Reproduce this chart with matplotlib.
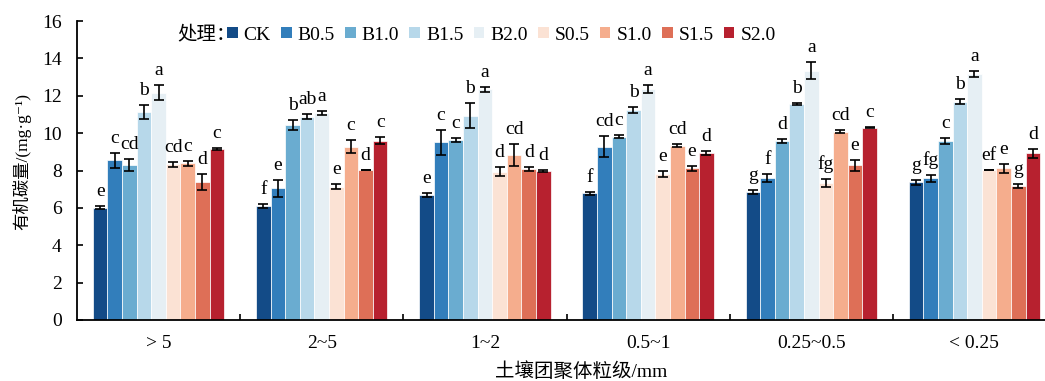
import numpy as np
import matplotlib
matplotlib.use("Agg")
import matplotlib.pyplot as plt
from matplotlib.patches import Patch

plt.rcParams['font.family'] = ['Liberation Serif', 'Noto Sans CJK SC', 'DejaVu Sans']

categories = ["> 5", "2~5", "1~2", "0.5~1", "0.25~0.5", "< 0.25"]
treatments = ["CK", "B0.5", "B1.0", "B1.5", "B2.0", "S0.5", "S1.0", "S1.5", "S2.0"]

# values per treatment across the 6 size classes
CK   = [6.01, 6.12, 6.69, 6.78, 6.87, 7.37]
B0_5 = [8.56, 7.05, 9.50, 9.27, 7.58, 7.58]
B1_0 = [8.29, 10.43, 9.63, 9.81, 9.58, 9.58]
B1_5 = [11.15, 10.88, 10.93, 11.24, 11.56, 11.68]
B2_0 = [12.15, 11.06, 12.34, 12.34, 13.34, 13.16]
S0_5 = [8.33, 7.13, 7.94, 7.79, 7.35, 8.03]
S1_0 = [8.38, 9.27, 8.83, 9.33, 10.08, 8.11]
S1_5 = [7.40, 8.03, 8.08, 8.11, 8.29, 7.17]
S2_0 = [9.15, 9.60, 7.97, 8.92, 10.29, 8.92]

CK_err   = [0.09, 0.10, 0.11, 0.09, 0.11, 0.12]
B0_5_err = [0.40, 0.46, 0.69, 0.55, 0.22, 0.20]
B1_0_err = [0.30, 0.25, 0.13, 0.09, 0.13, 0.17]
B1_5_err = [0.37, 0.14, 0.68, 0.18, 0.03, 0.12]
B2_0_err = [0.40, 0.10, 0.14, 0.21, 0.45, 0.15]
S0_5_err = [0.12, 0.13, 0.25, 0.16, 0.22, 0.02]
S1_0_err = [0.14, 0.34, 0.60, 0.08, 0.09, 0.24]
S1_5_err = [0.43, 0.02, 0.12, 0.13, 0.29, 0.13]
S2_0_err = [0.03, 0.20, 0.05, 0.11, 0.03, 0.23]

CK_sig   = ["e", "f", "e", "f", "g", "g"]
B0_5_sig = ["c", "e", "c", "cd", "f", "fg"]
B1_0_sig = ["cd", "b", "c", "c", "d", "c"]
B1_5_sig = ["b", "ab", "b", "b", "b", "b"]
B2_0_sig = ["a", "a", "a", "a", "a", "a"]
S0_5_sig = ["cd", "e", "d", "e", "fg", "ef"]
S1_0_sig = ["c", "c", "cd", "cd", "cd", "e"]
S1_5_sig = ["d", "d", "d", "e", "e", "g"]
S2_0_sig = ["c", "c", "d", "d", "c", "d"]

values = [CK, B0_5, B1_0, B1_5, B2_0, S0_5, S1_0, S1_5, S2_0]
errors = [CK_err, B0_5_err, B1_0_err, B1_5_err, B2_0_err, S0_5_err, S1_0_err, S1_5_err, S2_0_err]
sigs = [CK_sig, B0_5_sig, B1_0_sig, B1_5_sig, B2_0_sig, S0_5_sig, S1_0_sig, S1_5_sig, S2_0_sig]

colors = ["#134b87", "#327ebb", "#6aacd0", "#b7d8ea", "#e6eff4",
          "#fbe2d4", "#f5ad8d", "#de6f57", "#b7212f"]

W, H = 1045, 381
fig = plt.figure(figsize=(W / 100, H / 100), dpi=100)
ax = fig.add_axes([77 / W, 1 - 320 / H, (1056 - 77) / W, (320 - 21) / H])

fs = 14
fs_tick = 14
x = np.arange(len(categories))
bw = 0.0895
n = len(treatments)
for i in range(n):
    xi = x + (i - (n - 1) / 2) * bw
    ax.bar(xi, values[i], width=bw, color=colors[i], edgecolor='white', linewidth=0.5,
           label=treatments[i], zorder=2)
    ax.errorbar(xi, values[i], yerr=errors[i], fmt='none', ecolor='black',
                elinewidth=1.2, capsize=3.6, capthick=1.2, zorder=3)
    for j in range(len(categories)):
        ax.annotate(sigs[i][j], (xi[j], values[i][j] + errors[i][j]),
                    xytext=(0, 7.2), textcoords='offset points',
                    ha='center', va='baseline', fontsize=fs)

ax.set_xlim(-0.5, 5.5)
ax.set_ylim(0, 16)
ax.set_yticks(np.arange(0, 17, 2))
ax.set_xticks(x)
ax.set_xticklabels(categories, fontsize=fs_tick)
ax.set_xticks(np.arange(0.5, 5.5, 1), minor=True)
ax.tick_params(axis='x', which='major', length=0, pad=11)
ax.tick_params(axis='x', which='minor', direction='in', length=4, width=1.2)
ax.tick_params(axis='y', direction='in', length=4, width=1.2, labelsize=fs_tick, pad=11)
for s in ['top', 'right']:
    ax.spines[s].set_visible(False)
for s in ['left', 'bottom']:
    ax.spines[s].set_linewidth(1.3)

fig.text(22 / W, 1 - 161 / H, '有机碳量/(mg·g⁻¹)', rotation=90,
         ha='center', va='center', fontsize=12.5)
fig.text(581 / W, 1 - 372 / H, '土壤团聚体粒级/mm', ha='center', va='center', fontsize=fs)

fig.text(177 / W, 1 - 34 / H, '处理：', ha='left', va='center', fontsize=fs)
handles = [Patch(facecolor=colors[i], edgecolor='none') for i in range(n)]
fig.legend(handles, treatments, loc='center left', bbox_to_anchor=(227 / W, 1 - 35 / H),
           ncol=n, frameon=False, fontsize=fs, handlelength=0.55, handleheight=0.55,
           handletextpad=0.3, columnspacing=0.53, borderaxespad=0, borderpad=0)

fig.savefig('out.png', dpi=100)
